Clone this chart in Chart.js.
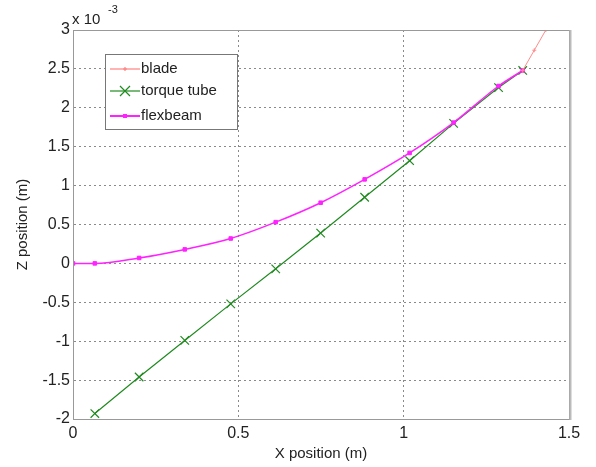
<!DOCTYPE html>
<html>
<head>
<meta charset="utf-8">
<script src="https://cdn.jsdelivr.net/npm/chart.js@4/dist/chart.umd.min.js"></script>
<style>
  body { margin: 0; background: #fff; }
  #wrap { width: 596px; height: 467px; }
</style>
</head>
<body>
<div id="wrap"><canvas id="deflChart" width="596" height="467"></canvas></div>
<script>
// values; z in units of 1e-3 m
const torqueX = [0.066, 0.20, 0.338, 0.477, 0.613, 0.749, 0.882, 1.018, 1.151, 1.287, 1.36];
const torqueZ = [-1.93, -1.46, -0.99, -0.52, -0.07, 0.39, 0.85, 1.32, 1.80, 2.26, 2.48];
const flexX = [0, 0.066, 0.20, 0.338, 0.477, 0.613, 0.749, 0.882, 1.018, 1.151, 1.287, 1.36];
const flexZ = [0, 0.0, 0.07, 0.18, 0.32, 0.53, 0.78, 1.08, 1.42, 1.81, 2.28, 2.48];
const bladeX = [1.36, 1.395, 1.43, 1.465];
const bladeZ = [2.48, 2.74, 3.0, 3.26];
const xTicks = [0, 0.5, 1, 1.5];
const yTicks = [-2, -1.5, -1, -0.5, 0, 0.5, 1, 1.5, 2, 2.5, 3];

const FONT = 'Liberation Sans, Arial, sans-serif';

function pts(xs, ys) {
    return xs.map((x, i) => ({ x: x, y: ys[i] }));
}

// frame, exponent label and legend box
const extras = {
    id: 'extras',
    afterDatasetsDraw(chart) {
        const ctx = chart.ctx;
        const a = chart.chartArea;
        ctx.save();
        ctx.strokeStyle = '#999';
        ctx.lineWidth = 1;
        ctx.strokeRect(a.left + 0.5, a.top + 0.5, a.right - a.left, a.bottom - a.top);
        ctx.strokeStyle = '#bbb';
        ctx.lineWidth = 2;
        ctx.beginPath();
        ctx.moveTo(a.right + 1.5, a.top);
        ctx.lineTo(a.right + 1.5, a.bottom + 1);
        ctx.stroke();

        // x 10^-3
        ctx.fillStyle = '#222';
        ctx.font = '15px ' + FONT;
        ctx.textBaseline = 'alphabetic';
        ctx.fillText('x 10', 72, 24);
        ctx.font = '11px ' + FONT;
        ctx.fillText('-3', 108, 13);

        // legend
        const lx = 105, ly = 54, lw = 132, lh = 75;
        ctx.fillStyle = '#fff';
        ctx.fillRect(lx, ly, lw, lh);
        ctx.strokeStyle = '#777';
        ctx.lineWidth = 1;
        ctx.strokeRect(lx + 0.5, ly + 0.5, lw, lh);
        const items = [
            { label: 'blade', color: '#ff8080', y: 69, mark: 'plus' },
            { label: 'torque tube', color: '#1f8a1f', y: 91, mark: 'x' },
            { label: 'flexbeam', color: '#ff22ff', y: 116, mark: 'dot' }
        ];
        items.forEach(it => {
            ctx.strokeStyle = it.color;
            ctx.fillStyle = it.color;
            ctx.lineWidth = it.mark === 'dot' ? 2 : 1.2;
            ctx.beginPath();
            ctx.moveTo(110, it.y);
            ctx.lineTo(140, it.y);
            ctx.stroke();
            const cx = 125;
            if (it.mark === 'x') {
                ctx.beginPath();
                ctx.moveTo(cx - 5, it.y - 5); ctx.lineTo(cx + 5, it.y + 5);
                ctx.moveTo(cx - 5, it.y + 5); ctx.lineTo(cx + 5, it.y - 5);
                ctx.stroke();
            } else if (it.mark === 'plus') {
                ctx.beginPath();
                ctx.moveTo(cx - 2, it.y); ctx.lineTo(cx + 2, it.y);
                ctx.moveTo(cx, it.y - 2); ctx.lineTo(cx, it.y + 2);
                ctx.stroke();
            } else {
                ctx.fillRect(cx - 2, it.y - 2, 4, 4);
            }
            ctx.fillStyle = '#222';
            ctx.font = '15px ' + FONT;
            ctx.textBaseline = 'middle';
            ctx.fillText(it.label, 141, it.y);
        });
        ctx.restore();
    }
};

const ctx = document.getElementById('deflChart').getContext('2d');
const chart = new Chart(ctx, {
    type: 'line',
    data: {
        datasets: [
            {
                label: 'blade',
                data: pts(bladeX, bladeZ),
                borderColor: '#ff8c8c',
                backgroundColor: '#ff8c8c',
                borderWidth: 1,
                pointStyle: 'cross',
                pointRadius: 2,
                pointBorderWidth: 1
            },
            {
                label: 'flexbeam',
                data: pts(flexX, flexZ),
                borderColor: '#ff22ff',
                backgroundColor: '#ff22ff',
                borderWidth: 1.5,
                cubicInterpolationMode: 'monotone',
                pointStyle: 'rect',
                pointRadius: 2.5,
                pointBorderWidth: 1
            },
            {
                label: 'torque tube',
                data: pts(torqueX, torqueZ),
                borderColor: '#1f8a1f',
                backgroundColor: '#1f8a1f',
                borderWidth: 1.2,
                pointStyle: 'crossRot',
                pointRadius: 6,
                pointBorderWidth: 1.2
            }
        ]
    },
    options: {
        responsive: false,
        animation: false,
        layout: { padding: { top: 30, right: 27, left: 0, bottom: 0 } },
        plugins: {
            legend: { display: false },
            tooltip: { enabled: false }
        },
        scales: {
            x: {
                type: 'linear',
                min: 0,
                max: 1.5,
                afterBuildTicks: s => { s.ticks = xTicks.map(v => ({ value: v })); },
                afterFit: s => { s.height = 48; },
                grid: {
                    color: '#8a8a8a',
                    drawTicks: false
                },
                border: { display: true, color: 'rgba(0,0,0,0)', dash: [2, 3] },
                ticks: {
                    color: '#222',
                    padding: 5,
                    font: { family: FONT, size: 16 },
                    callback: v => String(v)
                },
                title: {
                    display: true,
                    text: 'X position (m)',
                    color: '#222',
                    padding: { top: 0 },
                    font: { family: FONT, size: 15 }
                }
            },
            y: {
                type: 'linear',
                min: -2,
                max: 3,
                afterBuildTicks: s => { s.ticks = yTicks.map(v => ({ value: v })); },
                afterFit: s => { s.width = 73; },
                grid: {
                    color: '#8a8a8a',
                    drawTicks: false
                },
                border: { display: true, color: 'rgba(0,0,0,0)', dash: [2, 3] },
                ticks: {
                    color: '#222',
                    padding: 3,
                    font: { family: FONT, size: 16 },
                    callback: v => String(v)
                },
                title: {
                    display: true,
                    text: 'Z position (m)',
                    color: '#222',
                    padding: { top: 14, bottom: 0 },
                    font: { family: FONT, size: 15 }
                }
            }
        }
    },
    plugins: [extras]
});
</script>
</body>
</html>
